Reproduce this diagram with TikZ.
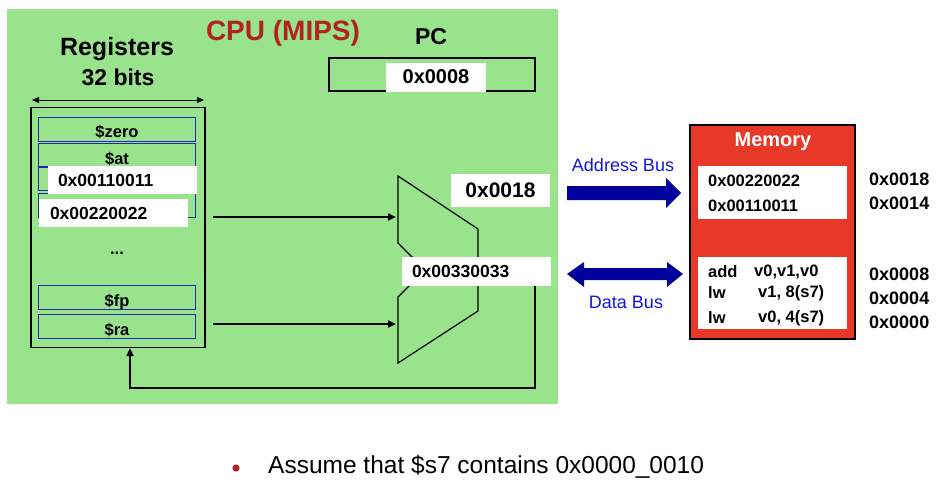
\documentclass[tikz,border=0pt]{standalone}
\usepackage{fontspec}
\setmainfont{Liberation Sans}
\usetikzlibrary{arrows.meta}
\definecolor{cpugreen}{RGB}{153,227,140}
\definecolor{cpured}{RGB}{178,34,34}
\definecolor{memred}{RGB}{232,56,40}
\definecolor{busblue}{RGB}{0,0,155}
\definecolor{txtblue}{RGB}{20,20,225}
\definecolor{regblue}{RGB}{35,35,180}
\definecolor{bulletred}{RGB}{190,30,30}
\newcommand\myfs[1]{\fontsize{#1}{#1}\selectfont}
\begin{document}
\begin{tikzpicture}[x=1pt,y=-1pt,
  regbox/.style={draw=regblue, line width=0.9pt, minimum width=157pt, minimum height=24pt, inner sep=0pt},
  reglbl/.style={font=\bfseries\myfs{16.5}, inner sep=0pt},
  whitebox/.style={fill=white, inner sep=0pt},
  wlbl/.style={fill=white, inner ysep=0pt, minimum height=28pt, align=left, font=\bfseries\myfs{17.5}},
  memtxt/.style={font=\bfseries\myfs{16.5}, anchor=west, inner sep=0pt},
  addr/.style={font=\bfseries\myfs{18}, anchor=west, inner sep=0pt},
  wire/.style={line width=2pt, -{Triangle[length=8pt,width=7pt]}},
  title/.style={font=\bfseries\myfs{25}, inner sep=0pt}
]
\useasboundingbox (0,0) rectangle (947,496);
% CPU area
\fill[cpugreen] (7,9) rectangle (558,404);
\node[font=\bfseries\myfs{28}, text=cpured, inner sep=0pt] (cpu) at (283,33) {CPU (MIPS)};
\node[title] (regt) at (117,49) {Registers};
\node[font=\bfseries\myfs{23}, inner sep=0pt] (bits) at (118,77) {32 bits};
\node[font=\bfseries\myfs{23}, inner sep=0pt] (pct) at (431,37) {PC};
% PC box
\node[draw=black, line width=1.5pt, minimum width=206pt, minimum height=33pt, inner sep=0pt] (pc) at (432,74.5) {};
\node[whitebox, minimum width=100pt, minimum height=29pt, font=\bfseries\myfs{20}] (pcv) at (436,77) {0x0008};
% width arrow
\coordinate (wl) at (32,100);
\coordinate (wr) at (204,100);
\draw[line width=1pt, {Triangle[length=7pt,width=6pt]}-{Triangle[length=7pt,width=6pt]}] (wl) -- (wr);
% register file
\node[draw=black, line width=1.3pt, minimum width=174pt, minimum height=240pt, inner sep=0pt] (regs) at (118,227.5) {};
\node[regbox] (rzero) at (116.5,129) {};
\node[regbox] (rat) at (116.5,155.5) {};
\node[regbox] (r3) at (116.5,178.5) {};
\node[regbox] (r4) at (116.5,205.5) {};
\node[regbox] (rfp) at (116.5,297.5) {};
\node[regbox] (rra) at (116.5,326.5) {};
\node[reglbl] (lzero) at (117,132) {\$zero};
\node[reglbl] (lat) at (117,159) {\$at};
\node[reglbl] (lfp) at (117,302) {\$fp};
\node[reglbl] (lra) at (117,330) {\$ra};
\node[reglbl] (dots) at (117,253) {...};
\node[wlbl, text width=129pt, inner xsep=10pt] (v11) at (122.5,180) {0x00110011};
\node[wlbl, text width=127pt, inner xsep=11pt] (v22) at (113.5,213) {0x00220022};
% mux
\coordinate (m1) at (398,176);
\coordinate (m2) at (478,229);
\coordinate (m3) at (478,311);
\coordinate (m4) at (398,363);
\coordinate (m5) at (398,297);
\coordinate (m6) at (425,270);
\coordinate (m7) at (398,243);
\draw[line width=1.2pt, line join=miter] (m1) -- (m2) -- (m3) -- (m4) -- (m5) -- (m6) -- (m7) -- cycle;
\coordinate (a1s) at (213,217);
\coordinate (a1e) at (396,217);
\coordinate (a2s) at (213,324);
\coordinate (a2e) at (396,324);
\draw[wire] (a1s) -- (a1e);
\draw[wire] (a2s) -- (a2e);
\node[fill=white, inner sep=0pt, minimum width=99pt, minimum height=33pt, font=\bfseries\myfs{21}] (v18) at (500.5,190.5) {0x0018};
\node[wlbl, text width=129pt, inner xsep=10pt, minimum height=29pt] (v33) at (476.5,271.5) {0x00330033};
% feedback
\coordinate (fb1) at (535,286);
\coordinate (fb2) at (535,388);
\coordinate (fb3) at (130,388);
\draw[line width=2.2pt, -{Triangle[length=8pt,width=7pt]}] (fb1) -- (fb2) -- (fb3) -- (fb3 |- regs.south);
% buses
\node[font=\myfs{18}, text=txtblue, inner sep=0pt] (abus) at (623,165) {Address Bus};
\node[font=\myfs{18}, text=txtblue, inner sep=0pt] (dbus) at (626,302) {Data Bus};
\fill[busblue] (567,186) -- (666,186) -- (666,178) -- (681,193) -- (666,208) -- (666,200) -- (567,200) -- cycle;
\fill[busblue] (567,274) -- (584,262) -- (584,268) -- (667,268) -- (667,262) -- (683,274) -- (667,287) -- (667,280) -- (584,280) -- (584,287) -- cycle;
% memory
\node[draw=black, line width=1.2pt, fill=memred, minimum width=165pt, minimum height=214pt, inner sep=0pt] (mem) at (772.5,232) {};
\node[font=\bfseries\myfs{20}, text=white, inner sep=0pt] (memt) at (773,142) {Memory};
\node[whitebox, minimum width=149pt, minimum height=53pt] (mb1) at (772.5,192.5) {};
\node[whitebox, minimum width=149pt, minimum height=72pt] (mb2) at (772.5,293) {};
\node[memtxt] (d1) at (708,181) {0x00220022};
\node[memtxt] (d2) at (708,206) {0x00110011};
\node[memtxt] (i1a) at (708,272) {add};
\node[memtxt] (i1b) at (754,272) {v0,v1,v0};
\node[memtxt] (i2a) at (708,293) {lw};
\node[memtxt] (i2b) at (758,293) {v1, 8(s7)};
\node[memtxt] (i3a) at (708,318) {lw};
\node[memtxt] (i3b) at (758,318) {v0, 4(s7)};
\node[addr] (ad18) at (869,179) {0x0018};
\node[addr] (ad14) at (869,203) {0x0014};
\node[addr] (ad08) at (869,274) {0x0008};
\node[addr] (ad04) at (869,298) {0x0004};
\node[addr] (ad00) at (869,322) {0x0000};
% bullet
\fill[bulletred] (236,468) circle (3.6);
\node[font=\myfs{24.5}, anchor=west, inner sep=0pt] (note) at (268,467) {Assume that \$s7 contains 0x0000\_0010};
\end{tikzpicture}
\end{document}
